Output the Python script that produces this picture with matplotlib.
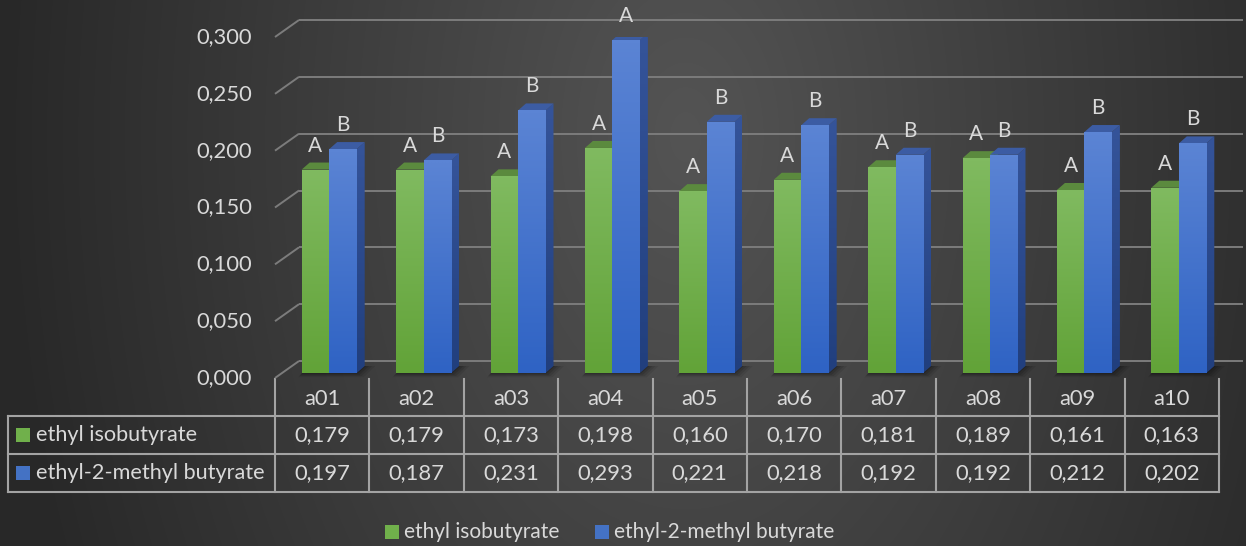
import numpy as np
import matplotlib
matplotlib.use("Agg")
import matplotlib.pyplot as plt
from matplotlib.patches import Polygon, Rectangle
from matplotlib.colors import LinearSegmentedColormap

# ---- data -------------------------------------------------------------
categories = ["a01", "a02", "a03", "a04", "a05", "a06", "a07", "a08", "a09", "a10"]
ethyl_isobutyrate = [0.179, 0.179, 0.173, 0.198, 0.160, 0.170, 0.181, 0.189, 0.161, 0.163]
ethyl_2_methyl_butyrate = [0.197, 0.187, 0.231, 0.293, 0.221, 0.218, 0.192, 0.192, 0.212, 0.202]
letters_isobutyrate = ["A", "A", "A", "A", "A", "A", "A", "A", "A", "A"]
letters_methyl_butyrate = ["B", "B", "B", "A", "B", "B", "B", "B", "B", "B"]
series_names = ["ethyl isobutyrate", "ethyl-2-methyl butyrate"]
y_ticks = [0.000, 0.050, 0.100, 0.150, 0.200, 0.250, 0.300]

# ---- style ------------------------------------------------------------
W, H = 1246, 546
TEXT = "#d9d9d9"
GRID = "#7c7c7c"
TABLE_LINE = "#a3a3a3"
plt.rcParams["font.family"] = ["Lato", "DejaVu Sans"]
FS = 15.8

green_front = LinearSegmentedColormap.from_list("gf", ["#62a338", "#80ba60"])
green_side = LinearSegmentedColormap.from_list("gs", ["#3f6e26", "#4f7f36"])
blue_front = LinearSegmentedColormap.from_list("bf", ["#2f63c4", "#5b84d4"])
blue_side = LinearSegmentedColormap.from_list("bs", ["#213f7e", "#35549a"])
green_top = "#5b8a3e"
blue_top = "#3c5ca3"

fig = plt.figure(figsize=(W / 100, H / 100), dpi=100)

# ---- background (pixel coordinates) ----------------------------------
bg = fig.add_axes([0, 0, 1, 1], zorder=0)
bg.set_axis_off()
yy, xx = np.mgrid[0:H, 0:W]
r = np.sqrt(((xx - 0.55 * W) / (0.55 * W)) ** 2 + ((yy - 0.25 * H) / (2.0 * H)) ** 2)
val = np.clip(84 - 44 * np.clip(r, 0, 1), 0, 255) / 255.0
img = np.dstack([val, val, val])
bg.imshow(img, extent=[0, W, H, 0], aspect="auto", interpolation="bilinear")
bg.set_xlim(0, W)
bg.set_ylim(H, 0)

# ---- main plotting area (front plane) --------------------------------
X0, X1 = 275, 1219      # front plane left / right in pixels
Y0, Y1 = 378, 37        # front plane value 0 / value 0.3 in pixels
ax = fig.add_axes([X0 / W, (H - Y0) / H, (X1 - X0) / W, (Y0 - Y1) / H], zorder=1)
ax.set_axis_off()
ax.patch.set_visible(False)
n = len(categories)
ax.set_xlim(-0.5, n - 0.5)
ax.set_ylim(0, 0.3)
ppx = (X1 - X0) / n
ppy = (Y0 - Y1) / 0.3


def dxp(p):
    return p / ppx


def dyp(p):
    return p / ppy


# back wall gridlines and the left diagonals
bx, by = dxp(24), dyp(17)
for v in y_ticks:
    ax.plot([-0.5 + bx, n - 0.5 + bx], [v + by, v + by], color=GRID, lw=1.4,
            solid_capstyle="butt", clip_on=False, zorder=1)
    ax.plot([-0.5, -0.5 + bx], [v, v + by], color=GRID, lw=1.4,
            solid_capstyle="butt", clip_on=False, zorder=1)
    ax.text(-0.5 - dxp(23), v, f"{v:.3f}".replace(".", ","), ha="right", va="center",
            color=TEXT, fontsize=FS)

# bar geometry
bw = dxp(27.5)
sx, sy = dxp(7), dyp(5)
ddx, ddy = dxp(8), dyp(7)

# soft floor shadow under each pair
for i in range(n):
    left = i - bw + sx
    right = i + bw + sx
    for k, a in zip([7, 5, 3, 1], [0.08, 0.1, 0.12, 0.16]):
        shadow = Polygon([(left - dxp(k * 0.5), sy - dyp(k * 0.6)),
                          (right + dxp(k), sy - dyp(k * 0.6)),
                          (right + ddx + dxp(k * 1.5), sy + ddy),
                          (left + ddx, sy + ddy)],
                         closed=True, facecolor="black", edgecolor="none",
                         alpha=a, zorder=1.5, clip_on=False)
        ax.add_patch(shadow)


def grad_fill(patch, cmap, x0, x1, y0, y1, z):
    g = np.linspace(0, 1, 64).reshape(-1, 1)
    im = ax.imshow(g, extent=[x0, x1, y0, y1], origin="lower", cmap=cmap,
                   aspect="auto", interpolation="bilinear", zorder=z)
    im.set_clip_path(patch)
    im.set_clip_on(True)


def draw_series(xs, values, front_cmap, side_cmap, top_color, z):
    bars = ax.bar(xs, values, width=bw, bottom=sy, align="edge",
                  color="none", edgecolor="none", zorder=z)
    for rect, v in zip(bars.patches, values):
        x0 = rect.get_x()
        x1 = x0 + rect.get_width()
        top = sy + v
        side = Polygon([(x1, sy), (x1, top), (x1 + ddx, top + ddy), (x1 + ddx, sy + ddy)],
                       closed=True, facecolor="none", edgecolor="none", zorder=z)
        ax.add_patch(side)
        grad_fill(side, side_cmap, x1, x1 + ddx, sy, top + ddy, z)
        lid = Polygon([(x0, top), (x1, top), (x1 + ddx, top + ddy), (x0 + ddx, top + ddy)],
                      closed=True, facecolor=top_color, edgecolor="none", zorder=z + 0.01)
        ax.add_patch(lid)
        grad_fill(rect, front_cmap, x0, x1, sy, top, z + 0.02)
    return bars


xs_green = [i - bw + sx for i in range(n)]
xs_blue = [i + sx for i in range(n)]
draw_series(xs_green, ethyl_isobutyrate, green_front, green_side, green_top, 2)
draw_series(xs_blue, ethyl_2_methyl_butyrate, blue_front, blue_side, blue_top, 3)

# significance letters
for i in range(n):
    ax.annotate(letters_isobutyrate[i], xy=(xs_green[i] + bw / 2, sy + ethyl_isobutyrate[i]),
                xytext=(0, 18), textcoords="offset pixels", ha="center", va="baseline",
                color=TEXT, fontsize=15, annotation_clip=False, zorder=5)
    ax.annotate(letters_methyl_butyrate[i], xy=(xs_blue[i] + bw / 2, sy + ethyl_2_methyl_butyrate[i]),
                xytext=(0, 18), textcoords="offset pixels", ha="center", va="baseline",
                color=TEXT, fontsize=15, annotation_clip=False, zorder=5)

# ---- data table (pixel coordinates on the background axes) ------------
col_edges = [X0 + j * ppx for j in range(n + 1)]
TL = 8
rows_y = [416, 454, 492]
lw_t = 1.5
for y in rows_y:
    bg.plot([TL, X1], [y, y], color=TABLE_LINE, lw=lw_t, solid_capstyle="projecting")
bg.plot([TL, TL], [rows_y[0], rows_y[-1]], color=TABLE_LINE, lw=lw_t)
for x in col_edges:
    bg.plot([x, x], [Y0 + 1, rows_y[-1]], color=TABLE_LINE, lw=lw_t)

for i, c in enumerate(categories):
    cx = (col_edges[i] + col_edges[i + 1]) / 2
    bg.text(cx, 399, c, ha="center", va="center", color=TEXT, fontsize=FS)
    bg.text(cx, 435, f"{ethyl_isobutyrate[i]:.3f}".replace(".", ","), ha="center",
            va="center", color=TEXT, fontsize=FS)
    bg.text(cx, 473, f"{ethyl_2_methyl_butyrate[i]:.3f}".replace(".", ","), ha="center",
            va="center", color=TEXT, fontsize=FS)

swatch_colors = ["#70b04b", "#4472c4"]
for k, (name, sc) in enumerate(zip(series_names, swatch_colors)):
    cy = 435 if k == 0 else 473
    bg.add_patch(Rectangle((16, cy - 7), 14, 14, facecolor=sc, edgecolor="none"))
    bg.text(36, cy, name, ha="left", va="center", color=TEXT, fontsize=15.6)

# ---- legend -----------------------------------------------------------
leg_y = 532
bg.add_patch(Rectangle((385, leg_y - 7), 14, 14, facecolor=swatch_colors[0], edgecolor="none"))
bg.text(404, leg_y, series_names[0], ha="left", va="center", color=TEXT, fontsize=15)
bg.add_patch(Rectangle((595, leg_y - 7), 14, 14, facecolor=swatch_colors[1], edgecolor="none"))
bg.text(614, leg_y, series_names[1], ha="left", va="center", color=TEXT, fontsize=15)

fig.savefig("out.png", dpi=100)
